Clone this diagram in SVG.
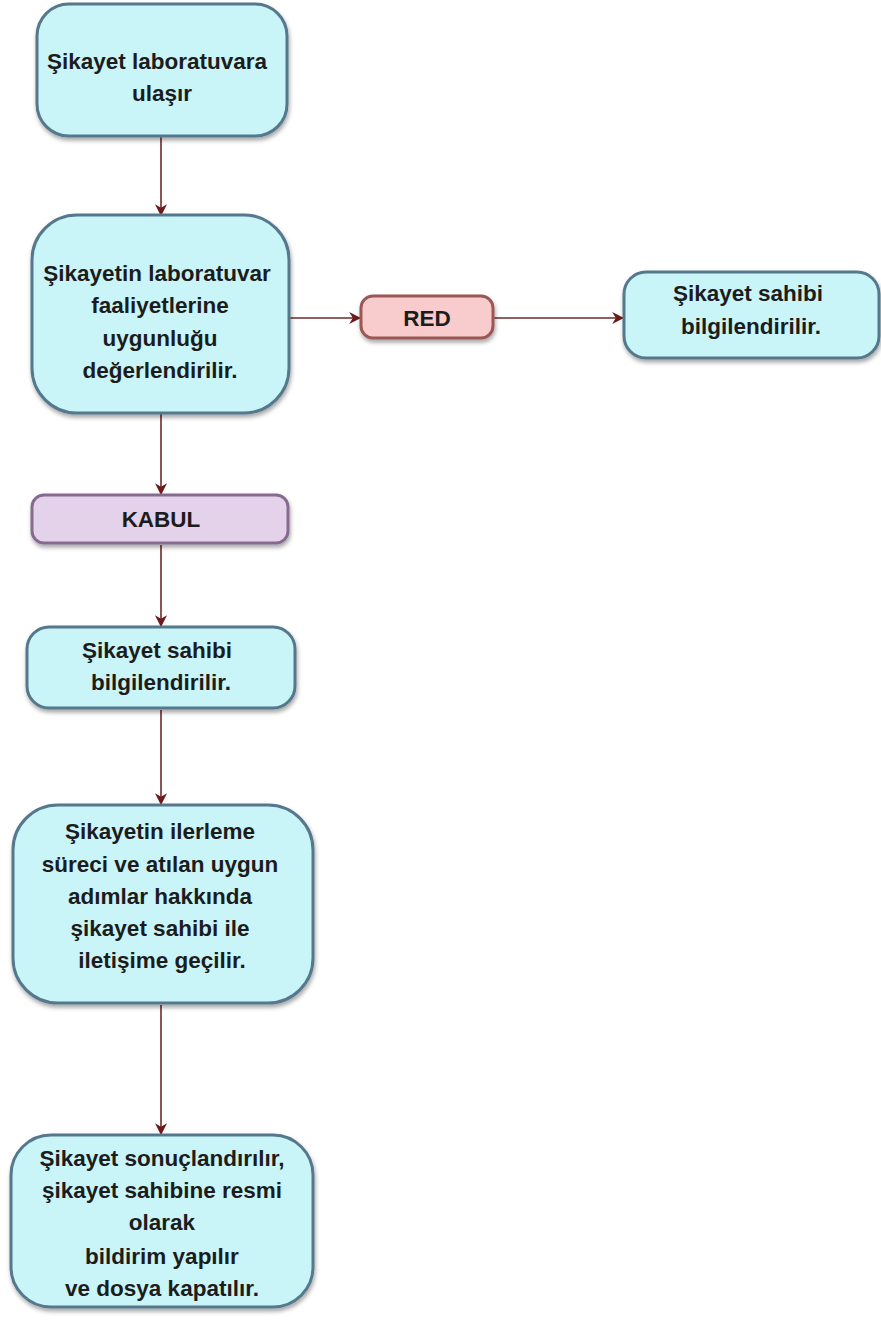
<svg xmlns="http://www.w3.org/2000/svg" width="881" height="1321" viewBox="0 0 881 1321">
<defs>
<filter id="sh" x="-10%" y="-10%" width="120%" height="130%">
<feDropShadow dx="1" dy="3" stdDeviation="2" flood-color="#000" flood-opacity="0.35"/>
</filter>
<marker id="ah2" viewBox="0 0 10 10" refX="9" refY="5" markerWidth="12" markerHeight="12" markerUnits="userSpaceOnUse" orient="auto">
<path d="M0,0 L10,5 L0,10 L3,5 Z" fill="#6e1a1a"/>
</marker>
</defs>
<style>
.blue{fill:#c9f4f8;stroke:#55788c;stroke-width:3;filter:url(#sh)}
.pink{fill:#f8cccc;stroke:#9c5656;stroke-width:3;filter:url(#sh)}
.purple{fill:#e4d2ea;stroke:#866a8f;stroke-width:3;filter:url(#sh)}
.t{font-family:"Liberation Sans",Arial,sans-serif;font-weight:bold;font-size:22.5px;fill:#1c1c1c;text-anchor:middle}
.c{stroke:#6e2a2a;stroke-width:1.6;fill:none;marker-end:url(#ah2)}
</style>
<rect width="881" height="1321" fill="#ffffff"/>
<g id="connectors">
<line class="c" x1="161" y1="137" x2="161" y2="215"/>
<line class="c" x1="161" y1="414" x2="161" y2="494"/>
<line class="c" x1="161" y1="545" x2="161" y2="626"/>
<line class="c" x1="161" y1="710" x2="161" y2="804"/>
<line class="c" x1="161" y1="1005" x2="161" y2="1134"/>
<line class="c" x1="290" y1="318" x2="360" y2="318"/>
<line class="c" x1="494" y1="318" x2="623" y2="318"/>
</g>
<g id="n1">
<rect class="blue" x="37" y="4" width="250" height="132" rx="32"/>
<text class="t" x="157" y="69">Şikayet laboratuvara</text>
<text class="t" x="162" y="101">ulaşır</text>
</g>
<g id="n2">
<rect class="blue" x="32" y="215" width="257" height="198" rx="45"/>
<text class="t" x="157" y="281">Şikayetin laboratuvar</text>
<text class="t" x="160" y="313">faaliyetlerine</text>
<text class="t" x="160" y="346">uygunluğu</text>
<text class="t" x="160" y="378">değerlendirilir.</text>
</g>
<g id="red">
<rect class="pink" x="361" y="296" width="132" height="42" rx="12"/>
<text class="t" x="427" y="326">RED</text>
</g>
<g id="n3">
<rect class="blue" x="624" y="272" width="255" height="86" rx="22"/>
<text class="t" x="748" y="301">Şikayet sahibi</text>
<text class="t" x="751" y="334">bilgilendirilir.</text>
</g>
<g id="kabul">
<rect class="purple" x="32" y="495" width="256" height="48" rx="12"/>
<text class="t" x="161" y="527">KABUL</text>
</g>
<g id="n4">
<rect class="blue" x="27" y="627" width="268" height="81" rx="22"/>
<text class="t" x="157" y="658">Şikayet sahibi</text>
<text class="t" x="161" y="690">bilgilendirilir.</text>
</g>
<g id="n5">
<rect class="blue" x="13" y="805" width="300" height="198" rx="45"/>
<text class="t" x="160" y="839">Şikayetin ilerleme</text>
<text class="t" x="160" y="872">süreci ve atılan uygun</text>
<text class="t" x="160" y="904">adımlar hakkında</text>
<text class="t" x="160" y="936">şikayet sahibi ile</text>
<text class="t" x="162" y="968">iletişime geçilir.</text>
</g>
<g id="n6">
<rect class="blue" x="11" y="1135" width="302" height="172" rx="40"/>
<text class="t" x="162" y="1166">Şikayet sonuçlandırılır,</text>
<text class="t" x="162" y="1198">şikayet sahibine resmi</text>
<text class="t" x="162" y="1230">olarak</text>
<text class="t" x="162" y="1264">bildirim yapılır</text>
<text class="t" x="162" y="1296">ve dosya kapatılır.</text>
</g>
</svg>
